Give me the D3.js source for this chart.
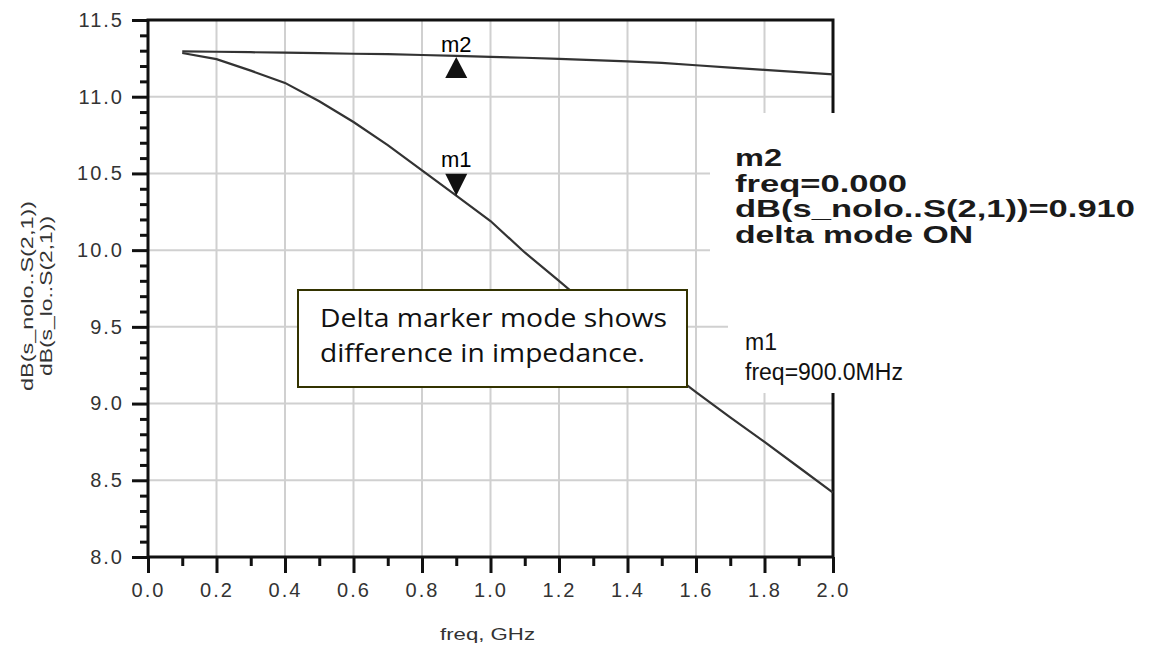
<!DOCTYPE html>
<html>
<head>
<meta charset="utf-8">
<script src="https://cdn.jsdelivr.net/npm/d3@7"></script>
<style>
  body { margin: 0; background: #fff; }
  svg { display: block; }
  .tick text { font-family: "Liberation Sans", Arial, sans-serif; fill: #333; }
</style>
</head>
<body>
<div id="chart"></div>
<script>
// frequency points (GHz) and the two traces (dB)
var freq = [0.1, 0.2, 0.3, 0.4, 0.5, 0.6, 0.7, 0.8, 0.9, 1.0,
            1.1, 1.2, 1.3, 1.4, 1.5, 1.6, 1.7, 1.8, 1.9, 2.0];
var sNolo = [11.295, 11.293, 11.290, 11.287, 11.284, 11.280, 11.277, 11.272, 11.266, 11.260,
             11.254, 11.247, 11.238, 11.230, 11.220, 11.205, 11.190, 11.175, 11.160, 11.145];
var sLo = [11.285, 11.245, 11.170, 11.090, 10.970, 10.835, 10.685, 10.520, 10.355, 10.190,
           9.985, 9.800, 9.610, 9.420, 9.245, 9.075, 8.910, 8.750, 8.585, 8.420];

var xTicks = [0, 0.2, 0.4, 0.6, 0.8, 1.0, 1.2, 1.4, 1.6, 1.8, 2.0];
var xMinor = [0.1, 0.3, 0.5, 0.7, 0.9, 1.1, 1.3, 1.5, 1.7, 1.9];
var yTicks = [8.0, 8.5, 9.0, 9.5, 10.0, 10.5, 11.0, 11.5];
var yMinor = [8.1, 8.2, 8.3, 8.4, 8.6, 8.7, 8.8, 8.9, 9.1, 9.2, 9.3, 9.4, 9.6, 9.7, 9.8, 9.9,
              10.1, 10.2, 10.3, 10.4, 10.6, 10.7, 10.8, 10.9, 11.1, 11.2, 11.3, 11.4];

// markers: m1 on s_lo, m2 on s_nolo, both at 0.9 GHz
var markerFreq = 0.9;
var m1Value = 10.355;
var m2Value = 11.266;

var m2Lines = ["m2", "freq=0.000", "dB(s_nolo..S(2,1))=0.910", "delta mode ON"];
var m2Widths = [47, 172, 400, 238];
var m1Lines = ["m1", "freq=900.0MHz"];
var noteLines = ["Delta marker mode shows", "difference in impedance."];
var noteWidths = [347, 325];

var svgWidth = 1152;
var svgHeight = 648;

var margin = { top: 20, right: 319, bottom: 91, left: 148 };
var width = svgWidth - margin.left - margin.right;
var height = svgHeight - margin.top - margin.bottom;

var svg = d3.select("#chart")
  .append("svg")
  .attr("width", svgWidth)
  .attr("height", svgHeight);

var chartGroup = svg.append("g")
  .attr("transform", `translate(${margin.left}, ${margin.top})`);

var xScale = d3.scaleLinear().domain([0, 2]).range([0, width]);
var yScale = d3.scaleLinear().domain([8, 11.5]).range([height, 0]);

// grid
chartGroup.append("g")
  .selectAll("line")
  .data(xTicks.slice(1, -1))
  .join("line")
  .attr("x1", d => xScale(d)).attr("x2", d => xScale(d))
  .attr("y1", 0).attr("y2", height)
  .attr("stroke", "#d0d0d0").attr("stroke-width", 2);

chartGroup.append("g")
  .selectAll("line")
  .data(yTicks.slice(1, -1))
  .join("line")
  .attr("x1", 0).attr("x2", width)
  .attr("y1", d => yScale(d)).attr("y2", d => yScale(d))
  .attr("stroke", "#d0d0d0").attr("stroke-width", 2);

// axes
var bottomAxis = d3.axisBottom(xScale)
  .tickValues(xTicks)
  .tickSize(16)
  .tickPadding(10)
  .tickFormat(d3.format(".1f"));

var bottomMinor = d3.axisBottom(xScale)
  .tickValues(xMinor)
  .tickSize(9)
  .tickFormat("");

var leftAxis = d3.axisLeft(yScale)
  .tickValues(yTicks)
  .tickSize(16)
  .tickPadding(8)
  .tickFormat(d3.format(".1f"));

var leftMinor = d3.axisLeft(yScale)
  .tickValues(yMinor)
  .tickSize(8)
  .tickFormat("");

[bottomAxis, bottomMinor].forEach(ax => {
  chartGroup.append("g")
    .attr("transform", `translate(0, ${height})`)
    .call(ax)
    .call(g => g.select(".domain").remove());
});
[leftAxis, leftMinor].forEach(ax => {
  chartGroup.append("g")
    .call(ax)
    .call(g => g.select(".domain").remove());
});

chartGroup.selectAll(".tick line")
  .attr("stroke", "#111")
  .attr("stroke-width", 3);

chartGroup.selectAll(".tick text")
  .attr("font-size", 20)
  .attr("letter-spacing", 2);

// frame
chartGroup.append("rect")
  .attr("x", 0).attr("y", 0)
  .attr("width", width).attr("height", height)
  .attr("fill", "none")
  .attr("stroke", "#111")
  .attr("stroke-width", 3);

// traces
var line = d3.line()
  .x((d, i) => xScale(freq[i]))
  .y(d => yScale(d));

[sNolo, sLo].forEach(series => {
  chartGroup.append("path")
    .datum(series)
    .attr("d", line)
    .attr("fill", "none")
    .attr("stroke", "#333")
    .attr("stroke-width", 2.2);
});

// markers
var mx = xScale(markerFreq);
var m2y = yScale(m2Value);
var m1y = yScale(m1Value);

chartGroup.append("path")
  .attr("d", `M${mx},${m2y + 1} L${mx - 11},${m2y + 22} L${mx + 11},${m2y + 22} Z`)
  .attr("fill", "#111");
chartGroup.append("text")
  .attr("x", mx).attr("y", m2y - 4)
  .attr("text-anchor", "middle")
  .attr("font-family", "Liberation Sans, Arial, sans-serif")
  .attr("font-size", 22)
  .text("m2");

chartGroup.append("path")
  .attr("d", `M${mx},${m1y} L${mx - 11},${m1y - 22} L${mx + 11},${m1y - 22} Z`)
  .attr("fill", "#111");
chartGroup.append("text")
  .attr("x", mx).attr("y", m1y - 29)
  .attr("text-anchor", "middle")
  .attr("font-family", "Liberation Sans, Arial, sans-serif")
  .attr("font-size", 22)
  .text("m1");

// axis titles
svg.append("text")
  .attr("x", 440).attr("y", 640)
  .attr("font-family", "Liberation Sans, Arial, sans-serif")
  .attr("font-size", 17)
  .attr("textLength", 95)
  .attr("lengthAdjust", "spacingAndGlyphs")
  .attr("fill", "#333")
  .text("freq, GHz");

var yTitle = svg.append("text")
  .attr("transform", "translate(33, 296) rotate(-90)")
  .attr("text-anchor", "middle")
  .attr("font-family", "Liberation Sans, Arial, sans-serif")
  .attr("font-size", 17)
  .attr("fill", "#333");
yTitle.append("tspan").attr("x", 0).attr("dy", 0)
  .attr("textLength", 190).attr("lengthAdjust", "spacingAndGlyphs")
  .text("dB(s_nolo..S(2,1))");
yTitle.append("tspan").attr("x", 0).attr("dy", 19)
  .attr("textLength", 160).attr("lengthAdjust", "spacingAndGlyphs")
  .text("dB(s_lo..S(2,1))");

// marker readouts
svg.append("rect")
  .attr("x", 710).attr("y", 113)
  .attr("width", 440).attr("height", 187)
  .attr("fill", "#fff");
svg.append("rect")
  .attr("x", 728).attr("y", 300)
  .attr("width", 190).attr("height", 93)
  .attr("fill", "#fff");

svg.append("g")
  .selectAll("text")
  .data(m2Lines)
  .join("text")
  .attr("x", 735)
  .attr("y", (d, i) => 166 + i * 25.5)
  .attr("font-family", "Liberation Sans, Arial, sans-serif")
  .attr("font-size", 24)
  .attr("font-weight", "bold")
  .attr("textLength", (d, i) => m2Widths[i])
  .attr("lengthAdjust", "spacingAndGlyphs")
  .attr("fill", "#1a1a1a")
  .text(d => d);

svg.append("g")
  .selectAll("text")
  .data(m1Lines)
  .join("text")
  .attr("x", 745)
  .attr("y", (d, i) => 350 + i * 30)
  .attr("font-family", "Liberation Sans, Arial, sans-serif")
  .attr("font-size", 23)
  .attr("fill", "#111")
  .text(d => d);

// note box
svg.append("rect")
  .attr("x", 298).attr("y", 290)
  .attr("width", 389).attr("height", 97)
  .attr("fill", "#fff")
  .attr("stroke", "#333300")
  .attr("stroke-width", 2);

svg.append("g")
  .selectAll("text")
  .data(noteLines)
  .join("text")
  .attr("x", 320)
  .attr("y", (d, i) => 327 + i * 35)
  .attr("font-family", "Open Sans, sans-serif")
  .attr("font-size", 25)
  .attr("textLength", (d, i) => noteWidths[i])
  .attr("lengthAdjust", "spacingAndGlyphs")
  .attr("fill", "#111")
  .text(d => d);
</script>
</body>
</html>
